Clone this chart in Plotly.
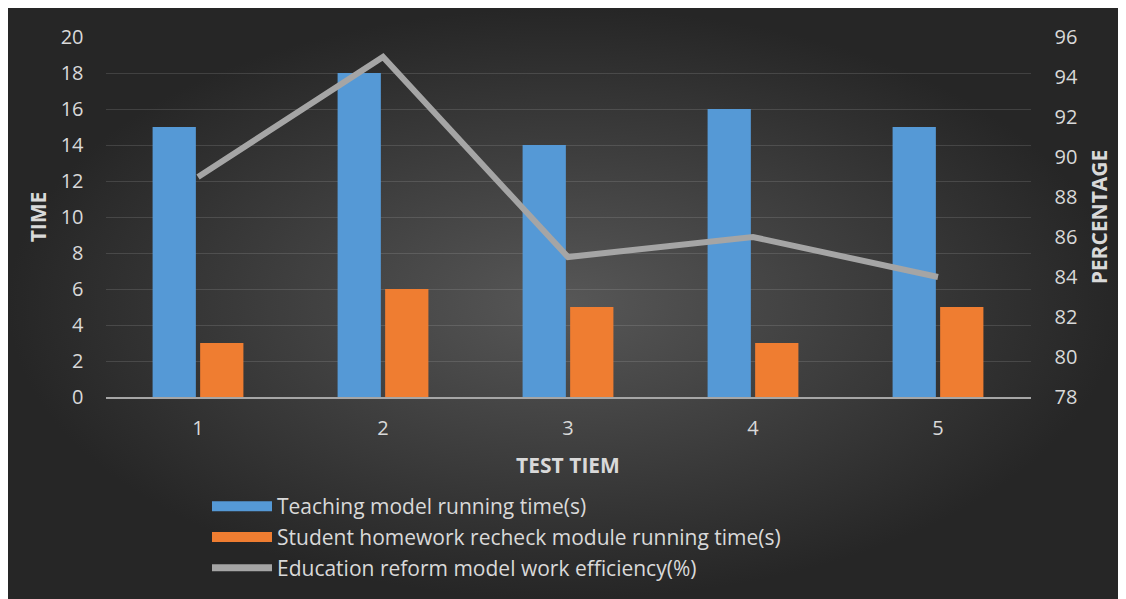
import plotly.graph_objects as go

# ---- data ----
categories = ["1", "2", "3", "4", "5"]
teaching_time = [15, 18, 14, 16, 15]
homework_time = [3, 6, 5, 3, 5]
efficiency = [89, 95, 85, 86, 84]

time_ticks = list(range(0, 21, 2))
pct_ticks = list(range(78, 97, 2))

names = [
    "Teaching model running time(s)",
    "Student homework recheck module running time(s)",
    "Education reform model work efficiency(%)",
]
BLUE, ORANGE, GREY = "#5599d6", "#ef7d31", "#a5a5a5"

# the page body adds an 8px offset, figure is sized to fit the window
OFF = 8
W, H = 1126 - OFF, 599 - OFF
TXT = "#d9d9d9"
FONT = "Open Sans"

fig = go.Figure()

# background panel (radial gradient) on a full-page hidden subplot
fig.add_trace(go.Scatter(
    x=[0, 1112, 1112, 0, 0], y=[0, 0, H, H, 0],
    xaxis="x", yaxis="y", mode="lines", fill="toself",
    line=dict(width=0, color="rgba(0,0,0,0)"),
    fillgradient=dict(type="radial", colorscale=[[0, "#575757"], [1, "#262626"]]),
    hoverinfo="skip", showlegend=False,
))

fig.add_trace(go.Bar(
    x=categories, y=teaching_time, name=names[0], legendgroup="a", showlegend=False,
    xaxis="x2", yaxis="y2", marker=dict(color=BLUE, line=dict(width=0)),
))
fig.add_trace(go.Bar(
    x=categories, y=homework_time, name=names[1], legendgroup="b", showlegend=False,
    xaxis="x2", yaxis="y2", marker=dict(color=ORANGE, line=dict(width=0)),
))
fig.add_trace(go.Scatter(
    x=categories, y=efficiency, name=names[2], legendgroup="c", showlegend=False,
    xaxis="x2", yaxis="y3", mode="lines",
    line=dict(color=GREY, width=6),
))

# legend-only entries (wide swatches like the reference)
for nm, col, w, g in [(names[0], BLUE, 14, "a"), (names[1], ORANGE, 14, "b"), (names[2], GREY, 7, "c")]:
    fig.add_trace(go.Scatter(
        x=[None], y=[None], xaxis="x2", yaxis="y2", mode="lines", name=nm,
        legendgroup=g, line=dict(color=col, width=w), hoverinfo="skip",
    ))

x0, x1 = (105.5 - OFF) / W, (1030.5 - OFF) / W
y0, y1 = (H - (397 - OFF)) / H, (H - (37 - OFF)) / H

fig.update_layout(
    width=W, height=H,
    margin=dict(l=0, r=0, t=0, b=0, pad=0, autoexpand=False),
    paper_bgcolor="white", plot_bgcolor="rgba(0,0,0,0)",
    font=dict(family=FONT, color=TXT, size=20),
    barmode="group", bargap=0.486, bargroupgap=0.09,
    xaxis=dict(domain=[0, 1], range=[0, W], visible=False, fixedrange=True),
    yaxis=dict(domain=[0, 1], range=[0, H], visible=False, fixedrange=True),
    xaxis2=dict(
        domain=[x0, x1], anchor="y2", type="category",
        showline=True, linecolor="#a6a6a6", linewidth=2,
        showgrid=False, ticks="", ticklabelstandoff=12,
        tickfont=dict(size=20, color=TXT),
        title=dict(text="<b>TEST TIEM</b>", font=dict(size=21, color=TXT), standoff=18),
    ),
    yaxis2=dict(
        domain=[y0, y1], anchor="x2", range=[0, 20], tickvals=time_ticks,
        showgrid=True, gridcolor="rgba(200,200,200,0.17)", gridwidth=1,
        zeroline=False, showline=False, ticks="",
        tickfont=dict(size=20, color=TXT), ticklabelstandoff=21,
        title=dict(text="<b>TIME</b>", font=dict(size=21, color=TXT), standoff=8),
    ),
    yaxis3=dict(
        overlaying="y2", side="right", anchor="x2", range=[78, 96], tickvals=pct_ticks,
        showgrid=False, zeroline=False, showline=False, ticks="",
        tickfont=dict(size=20, color=TXT), ticklabelstandoff=23,
        title=dict(text="<b>PERCENTAGE</b>", font=dict(size=21, color=TXT), standoff=15),
    ),
    legend=dict(
        x=(207 - OFF) / W, y=1 - (486 - OFF) / H, xanchor="left", yanchor="top",
        bgcolor="rgba(0,0,0,0)", font=dict(size=21, color=TXT),
        itemwidth=60, tracegroupgap=0.5, traceorder="grouped",
    ),
    showlegend=True,
)

fig.write_html("out.html")
